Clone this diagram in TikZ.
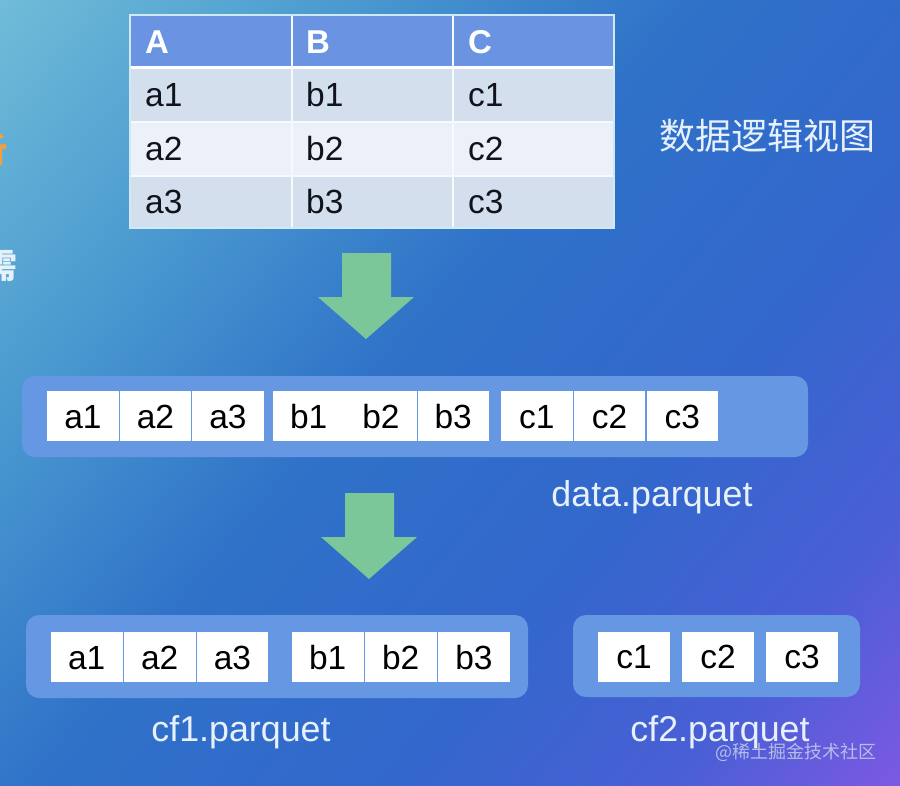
\documentclass[tikz,border=0pt]{standalone}
\usepackage{fontspec}
\setmainfont{Liberation Sans}
\newfontfamily\cjk{Noto Sans CJK SC}
\definecolor{gridline}{HTML}{CFEAF5}
\definecolor{headfill}{HTML}{6A94E2}
\definecolor{rowa}{HTML}{D3DFEC}
\definecolor{rowb}{HTML}{EBF0F9}
\definecolor{panelfill}{HTML}{6697E2}
\definecolor{arrowfill}{HTML}{7CC79A}
\definecolor{inktext}{HTML}{10131C}
\definecolor{paletext}{HTML}{E6F1FB}
\definecolor{sideorange}{HTML}{F0A040}
\definecolor{markgrey}{HTML}{B4BEE8}
\definecolor{bga}{HTML}{6FBBD8}
\definecolor{bgb}{HTML}{4B9BD0}
\definecolor{bgc}{HTML}{2F72C8}
\definecolor{bgd}{HTML}{3367CC}
\definecolor{bge}{HTML}{4A5FD6}
\definecolor{bgf}{HTML}{8058E4}
\pgfdeclarehorizontalshading{bgshade}{100bp}{
  color(0bp)=(bga);
  color(15bp)=(bga);
  color(30bp)=(bgb);
  color(46bp)=(bgc);
  color(62bp)=(bgd);
  color(75bp)=(bge);
  color(86bp)=(bgf);
  color(100bp)=(bgf)}
\tikzset{
  x=1pt,y=-1pt,
  cellbox/.style={fill=white,draw=none,inner sep=0pt,minimum height=50pt,font=\fontsize{33.5}{33}\selectfont,text=black,text height=24pt,text depth=0pt},
  wide/.style={minimum width=71.5pt},
  tabletext/.style={anchor=base west,inner sep=0pt,font=\fontsize{33.5}{33}\selectfont,text=inktext},
  headtext/.style={anchor=base west,inner sep=0pt,font=\fontsize{33}{33}\selectfont\bfseries,text=white},
  captext/.style={inner sep=0pt,anchor=base,font=\fontsize{35.8}{36}\selectfont,text=paletext},
  panel/.style={fill=panelfill,draw=none,rounded corners=13pt},
  bigarrow/.style={fill=arrowfill,draw=none},
  gridrule/.style={draw=gridline,line width=2pt},
  innerrule/.style={draw=white!80!gridline,line width=1.5pt},
}
\begin{document}
\begin{tikzpicture}
\useasboundingbox (0,0) rectangle (900,785);
\clip (0,0) rectangle (900,785);
\shade[shading=bgshade,shading angle=-40] (0,0) rectangle (900,785);
% clipped side text
\node[anchor=base east,inner sep=0pt,text=sideorange,font=\cjk\bfseries\fontsize{34}{34}\selectfont] (sideA) at (8,162) {析};
\node[anchor=base east,inner sep=0pt,text=paletext,font=\cjk\bfseries\fontsize{34}{34}\selectfont] (sideB) at (18,278) {需};
% table
\fill[headfill] (130,15) rectangle (614,68);
\fill[rowa] (130,68) rectangle (614,122);
\fill[rowb] (130,122) rectangle (614,176);
\fill[rowa] (130,176) rectangle (614,228);
\draw[innerrule] (292,15) -- (292,228);
\draw[innerrule] (453,15) -- (453,228);
\draw[draw=white,line width=3pt] (130,67) -- (614,67);
\draw[innerrule] (130,122) -- (614,122);
\draw[innerrule] (130,176) -- (614,176);
\draw[gridrule] (130,15) rectangle (614,228);
\node[headtext] (hA) at (145,53) {A};
\node[headtext] (hB) at (306,53) {B};
\node[headtext] (hC) at (468,53) {C};
\node[tabletext] (ta1) at (145,106) {a1};
\node[tabletext] (tb1) at (306,106) {b1};
\node[tabletext] (tc1) at (468,106) {c1};
\node[tabletext] (ta2) at (145,160) {a2};
\node[tabletext] (tb2) at (306,160) {b2};
\node[tabletext] (tc2) at (468,160) {c2};
\node[tabletext] (ta3) at (145,213) {a3};
\node[tabletext] (tb3) at (306,213) {b3};
\node[tabletext] (tc3) at (468,213) {c3};
\node[inner sep=0pt,text=paletext,font=\cjk\fontsize{36}{36}\selectfont] (viewlabel) at (767,136) {数据逻辑视图};
% arrows
\fill[bigarrow] (342,253) -- (391,253) -- (391,297) -- (414,297) -- (366,339) -- (318,297) -- (342,297) -- cycle;
\fill[bigarrow] (345,493) -- (394,493) -- (394,537) -- (417,537) -- (369,579) -- (321,537) -- (345,537) -- cycle;
% panels
\fill[panel] (22,376) rectangle (808,457);
\fill[panel] (26,615) rectangle (528,698);
\fill[panel] (573,615) rectangle (860,697);
% data.parquet
\node[cellbox,wide] (da1) at (83,416) {a1};
\node[cellbox,wide] (da2) at (155.5,416) {a2};
\node[cellbox,wide] (da3) at (228,416) {a3};
\node[cellbox,wide] (db1) at (308.75,416) {b1};
\node[cellbox,wide] (db2) at (381,416) {b2};
\node[cellbox,wide] (db3) at (453.25,416) {b3};
\node[cellbox,wide] (dc1) at (536.75,416) {c1};
\node[cellbox,wide] (dc2) at (609.5,416) {c2};
\node[cellbox,wide] (dc3) at (682.25,416) {c3};
% cf1
\node[cellbox,wide] (fa1) at (86.75,657) {a1};
\node[cellbox,wide] (fa2) at (159.75,657) {a2};
\node[cellbox,wide] (fa3) at (232.5,657) {a3};
\node[cellbox,wide] (fb1) at (327.75,657) {b1};
\node[cellbox,wide] (fb2) at (400.75,657) {b2};
\node[cellbox,wide] (fb3) at (474,657) {b3};
% cf2
\node[cellbox,wide] (gc1) at (634,656.5) {c1};
\node[cellbox,wide] (gc2) at (718,656.5) {c2};
\node[cellbox,wide] (gc3) at (802,656.5) {c3};
% captions
\node[captext] (cap0) at (652,506) {data.parquet};
\node[captext] (cap1) at (241,741) {cf1.parquet};
\node[captext] (cap2) at (720,741) {cf2.parquet};
\node[inner sep=0pt,anchor=east,text=markgrey,font=\cjk\fontsize{18}{18}\selectfont] (mark) at (877,752) {@稀土掘金技术社区};
\end{tikzpicture}
\end{document}
